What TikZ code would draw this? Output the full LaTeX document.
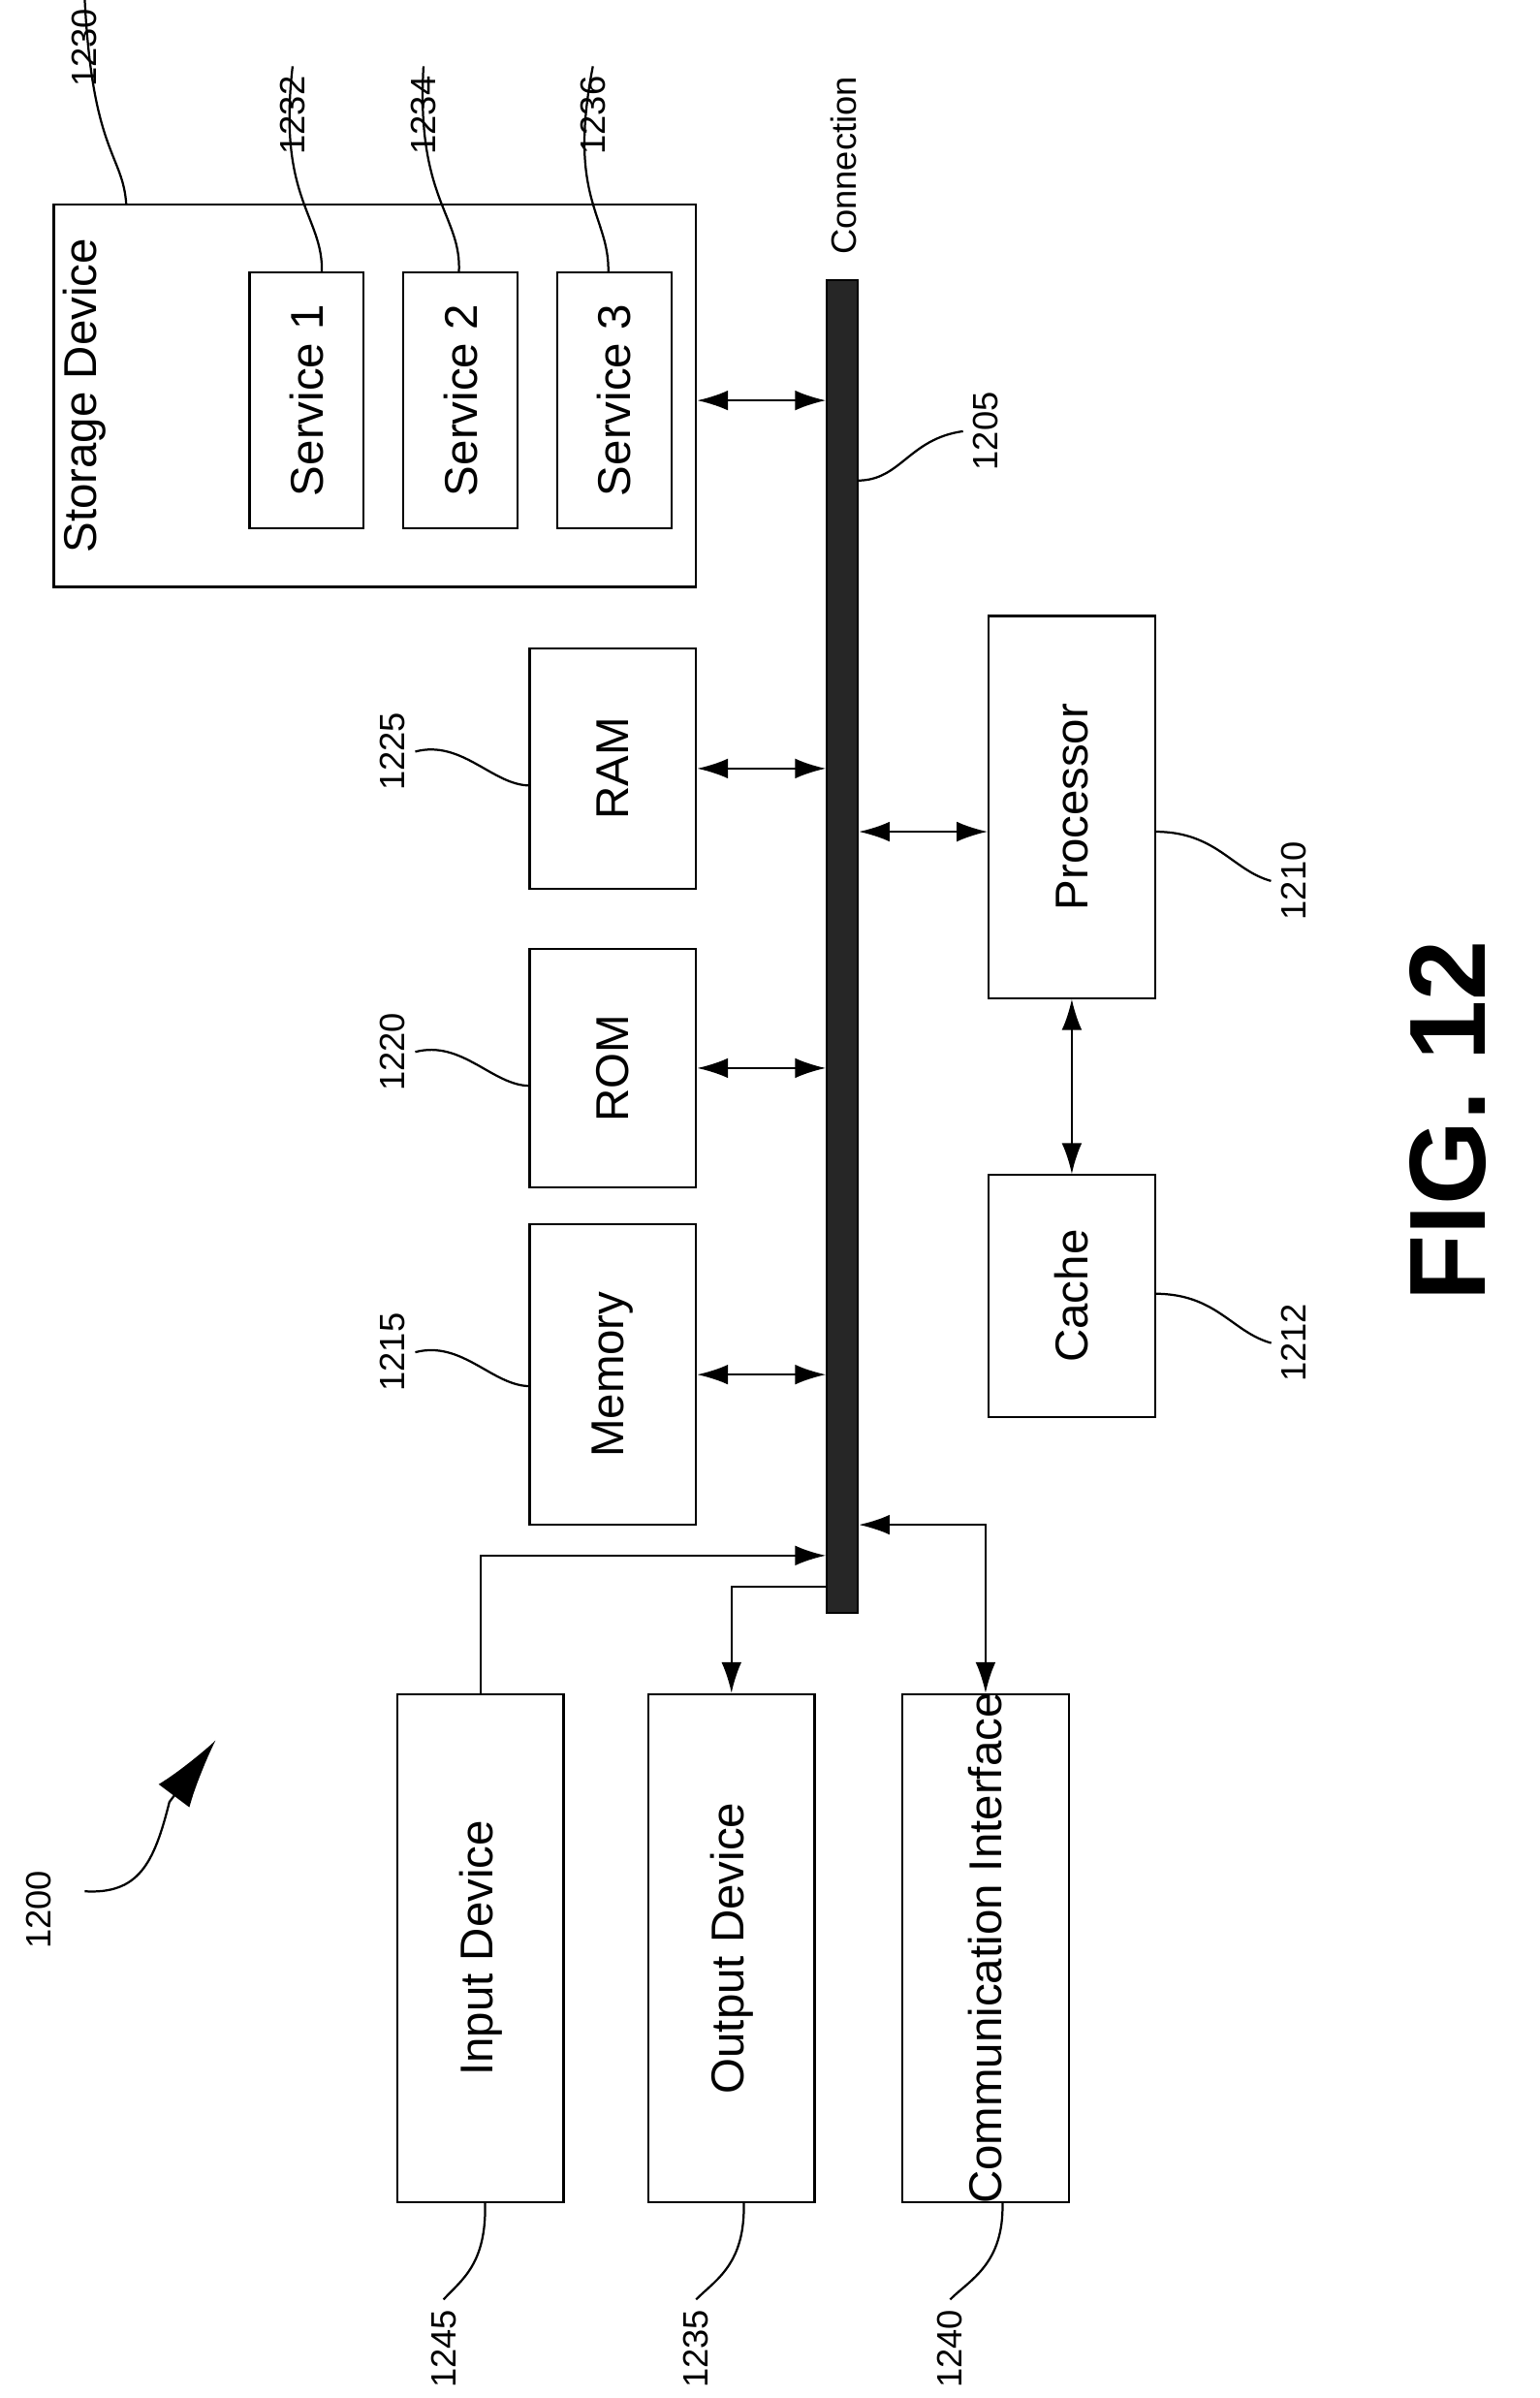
\documentclass[tikz,border=0pt]{standalone}
\usepackage{fontspec}
\setmainfont{Liberation Sans}
\usetikzlibrary{arrows.meta}
\begin{document}
\begin{tikzpicture}[x=0.02cm, y=-0.02cm, line width=0.8pt,
    box/.style = {draw, minimum width=0pt, minimum height=0pt, inner sep=0pt},
    txt/.style = {rotate=90, font=\fontsize{17}{20}\selectfont},
    num/.style = {rotate=90, font=\fontsize{13}{15}\selectfont},
    link/.style = {{Latex[length=4mm,width=2.6mm]}-{Latex[length=4mm,width=2.6mm]}},
    one/.style = {-{Latex[length=4mm,width=2.6mm]}}]
    \useasboundingbox (0,0) rectangle (1000,1557);
    % Storage
    \node[box, minimum width=417*0.02cm, minimum height=248*0.02cm] (SD) at (243.5,257) {};
    \node[txt, anchor=north] at (SD.west) {Storage Device};
    \node[box, minimum width=74*0.02cm, minimum height=166*0.02cm] (S1) at (199,260) {};
    \node[box, minimum width=74*0.02cm, minimum height=166*0.02cm] (S2) at (299,260) {};
    \node[box, minimum width=74*0.02cm, minimum height=166*0.02cm] (S3) at (399,260) {};
    \node[txt] at (S1) {Service 1};
    \node[txt] at (S2) {Service 2};
    \node[txt] at (S3) {Service 3};
    % Bus
    \node[box, fill=black!85, minimum width=20*0.02cm, minimum height=865*0.02cm] (BUS) at (547,614.5) {};
    \node[num, anchor=west] at (548,172) {Connection};
    % Memory side
    \node[box, minimum width=108*0.02cm, minimum height=156*0.02cm] (RAM) at (398,499) {};
    \node[box, minimum width=108*0.02cm, minimum height=155*0.02cm] (ROM) at (398,693.5) {};
    \node[box, minimum width=108*0.02cm, minimum height=195*0.02cm] (MEM) at (398,892.5) {};
    \node[txt] at (RAM) {RAM};
    \node[txt] at (ROM) {ROM};
    \node[txt] at (MEM) {Memory};
    % Processor side
    \node[box, minimum width=108*0.02cm, minimum height=248*0.02cm] (PRO) at (696,524) {};
    \node[box, minimum width=108*0.02cm, minimum height=157*0.02cm] (CAC) at (696,841.5) {};
    \node[txt] at (PRO) {Processor};
    \node[txt] at (CAC) {Cache};
    % I/O
    \node[box, minimum width=108*0.02cm, minimum height=330*0.02cm] (IN) at (312,1265) {};
    \node[box, minimum width=108*0.02cm, minimum height=330*0.02cm] (OUT) at (475,1265) {};
    \node[box, minimum width=108*0.02cm, minimum height=330*0.02cm] (COM) at (640,1265) {};
    \node[txt] at (IN) {Input Device};
    \node[txt] at (OUT) {Output Device};
    \node[txt] at (COM) {Communication Interface};
    % Connectors
    \draw[link] (SD.east |- 0,260) -- (BUS.west |- 0,260);
    \draw[link] (RAM.east) -- (BUS.west |- RAM.east);
    \draw[link] (ROM.east) -- (BUS.west |- ROM.east);
    \draw[link] (MEM.east) -- (BUS.west |- MEM.east);
    \draw[link] (BUS.east |- 0,540) -- (PRO.west |- 0,540);
    \draw[link] (PRO.south) -- (CAC.north);
    \draw[one] (IN.north) |- (BUS.west |- 0,1010);
    \draw[one] (BUS.west |- 0,1030) -| (OUT.north);
    \draw[link] (BUS.east |- 0,990) -| (COM.north);
    % Reference numerals
    \node[num] (L1230) at (55,31) {1230};
    \node[num] (L1232) at (190,75) {1232};
    \node[num] (L1234) at (275,75) {1234};
    \node[num] (L1236) at (385,75) {1236};
    \node[num] (L1205) at (640,280) {1205};
    \node[num] (L1225) at (255,488) {1225};
    \node[num] (L1220) at (255,683) {1220};
    \node[num] (L1215) at (255,878) {1215};
    \node[num] (L1210) at (840,572) {1210};
    \node[num] (L1212) at (840,872) {1212};
    \node[num] (L1245) at (288,1525) {1245};
    \node[num] (L1235) at (452,1525) {1235};
    \node[num] (L1240) at (617,1525) {1240};
    \node[num] (L1200) at (25,1240) {1200};
    \draw (L1230.east) .. controls (60,100) and (80,100) .. (82,133);
    \draw (L1232.east) .. controls (180,130) and (210,140) .. (209,177);
    \draw (L1234.east) .. controls (270,130) and (300,140) .. (298,177);
    \draw (L1236.east) .. controls (368,130) and (396,140) .. (395,177);
    \draw (L1205.north) .. controls (590,285) and (585,312) .. (557,312);
    \draw (L1225.south) .. controls (300,480) and (320,510) .. (344,510);
    \draw (L1220.south) .. controls (300,675) and (320,705) .. (344,705);
    \draw (L1215.south) .. controls (300,870) and (320,900) .. (344,900);
    \draw (L1210.north) .. controls (800,565) and (790,540) .. (750,540);
    \draw (L1212.north) .. controls (800,865) and (790,840) .. (750,840);
    \draw (L1245.east) .. controls (300,1480) and (316,1470) .. (315,1430);
    \draw (L1235.east) .. controls (465,1480) and (484,1470) .. (483,1430);
    \draw (L1240.east) .. controls (630,1480) and (652,1470) .. (651,1430);
    \coordinate (TIP) at (140,1130);
    \draw[-{Latex[length=9mm,width=5mm]}] (55,1228) .. controls (90,1230) and (100,1210) .. (110,1170) -- (TIP);
    \node[rotate=90, font=\bfseries\fontsize{40}{46}\selectfont] (FIG) at (940,728) {FIG. 12};
\end{tikzpicture}
\end{document}
